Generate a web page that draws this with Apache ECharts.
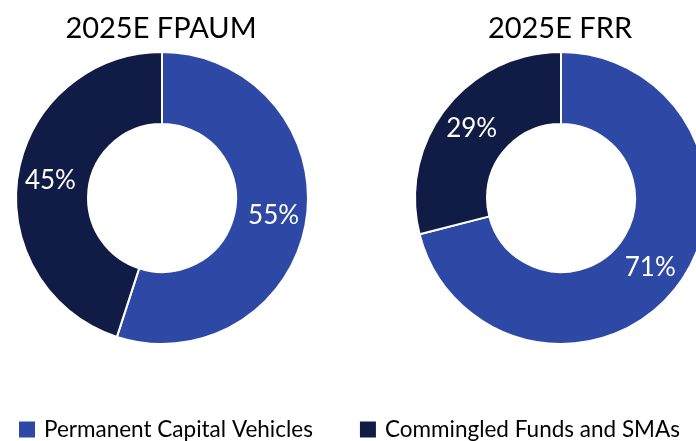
<!DOCTYPE html>
<html>
<head>
<meta charset="utf-8">
<script src="https://cdn.jsdelivr.net/npm/echarts@6/dist/echarts.min.js"></script>
<style>
	html, body { margin: 0; padding: 0; background: #fff; }
	#main { width: 696px; height: 441px; }
</style>
</head>
<body>
<div id="main"></div>
<script type="text/javascript">
	// data
	var categories = ['Permanent Capital Vehicles', 'Commingled Funds and SMAs'];
	var chartTitles = ['2025E FPAUM', '2025E FRR'];
	var fpaumShare = [55, 45];
	var frrShare = [71, 29];
	var colors = ['#2E49A5', '#111C46'];

	function toData(values) {
		var out = [];
		for (var i = 0; i < categories.length; i++) {
			out.push({ name : categories[i], value : values[i] });
		}
		return out;
	}

	var font = 'Lato, "Open Sans", sans-serif';
	var myChart = echarts.init(document.getElementById('main'));

	function donut(center, values) {
		return {
			type : 'pie',
			center : center,
			radius : [74, 146],
			startAngle : 90,
			clockwise : true,
			avoidLabelOverlap : false,
			itemStyle : { borderColor : '#fff', borderWidth : 2 },
			label : {
				show : true,
				position : 'inside',
				formatter : '{c}%',
				color : '#fff',
				fontFamily : font,
				fontSize : 26
			},
			labelLine : { show : false },
			emphasis : { disabled : true },
			data : toData(values)
		};
	}

	var titleStyle = { fontFamily : font, fontSize : 29, fontWeight : 'normal', color : '#000' };

	var option = {
		animation : false,
		color : colors,
		title : [ {
			text : chartTitles[0],
			left : 161,
			top : 14,
			padding : 0,
			textAlign : 'center',
			textStyle : titleStyle
		}, {
			text : chartTitles[1],
			left : 560,
			top : 14,
			padding : 0,
			textAlign : 'center',
			textStyle : titleStyle
		} ],
		legend : {
			data : categories,
			left : 17,
			top : 418,
			width : 690,
			padding : 0,
			icon : 'rect',
			itemWidth : 18,
			itemHeight : 18,
			itemGap : 45,
			selectedMode : false,
			textStyle : { fontFamily : font, fontSize : 22.5, color : '#000', padding : [0, 0, 0, 3] }
		},
		series : [ donut([162, 198], fpaumShare), donut([561, 198], frrShare) ]
	};
	myChart.setOption(option);
</script>
</body>
</html>
